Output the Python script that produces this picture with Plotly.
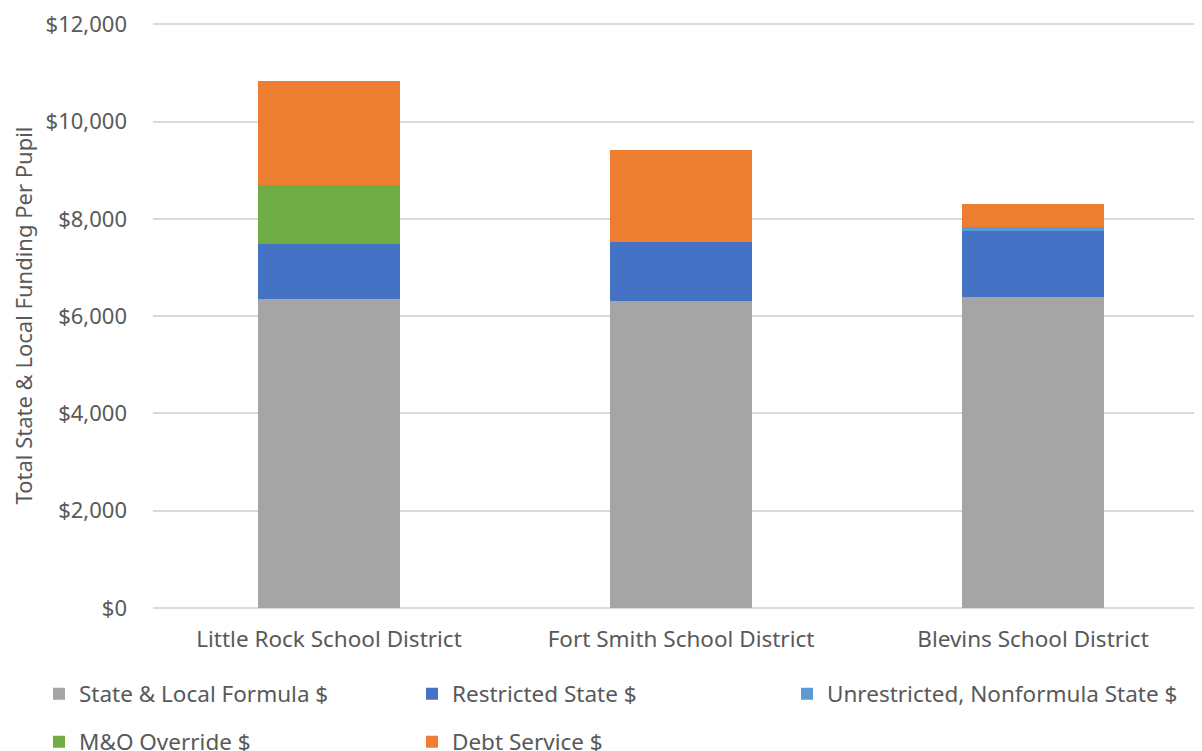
import plotly.graph_objects as go

districts = ["Little Rock School District", "Fort Smith School District", "Blevins School District"]
formula = [6349, 6302, 6392]
restricted = [1134, 1226, 1354]
unrestricted = [0, 0, 82]
mo_override = [1204, 0, 0]
debt_service = [2140, 1877, 472]

series_names = ["State & Local Formula $", "Restricted State $", "Unrestricted, Nonformula State $",
                "M&O Override $", "Debt Service $"]
series_values = [formula, restricted, unrestricted, mo_override, debt_service]
series_colors = ["#A5A5A5", "#4472C4", "#5B9BD5", "#70AD47", "#ED7D31"]

FONT = "Noto Sans"
TXT = "#595959"

# the page body adds an 8px offset, so the figure is sized to fit the window
W, H = 1194, 743
L, R, T, B = 145, 0, 15, 143

# legend item anchor positions in figure pixels (item start, row centre)
legend_pos = [(31, 686), (404, 686), (779, 686), (31, 734), (404, 734)]

fig = go.Figure()
layout_legends = {}
for i, (name, vals, color) in enumerate(zip(series_names, series_values, series_colors)):
    lid = "legend" if i == 0 else f"legend{i + 1}"
    fig.add_trace(go.Bar(
        x=districts, y=vals, name=name, legend=lid,
        marker=dict(color=color, line=dict(width=0)),
        width=0.403,
    ))
    px, py = legend_pos[i]
    layout_legends[lid] = dict(
        orientation="h", xref="container", yref="container",
        x=px / W, y=1 - py / H,
        xanchor="left", yanchor="middle",
        font=dict(size=22.5, color=TXT), bgcolor="rgba(0,0,0,0)",
        borderwidth=0,
    )

fig.update_layout(
    width=W, height=H,
    barmode="stack",
    showlegend=True,
    plot_bgcolor="white", paper_bgcolor="white",
    margin=dict(l=L, r=R, t=T, b=B),
    font=dict(family=FONT, size=22, color=TXT),
    xaxis=dict(range=[-0.5, 2.48], showgrid=False, showline=False, ticks="",
               automargin=False,
               tickfont=dict(size=22.5, color=TXT), ticklabelstandoff=15),
    yaxis=dict(range=[0, 12025], dtick=2000, tickprefix="$", tickformat=",",
               automargin=False, ticklabeloverflow="allow",
               gridcolor="#D9D9D9", gridwidth=1.5, zeroline=True, zerolinecolor="#D9D9D9",
               zerolinewidth=1.5, showline=False, ticks="",
               tickfont=dict(size=22, color=TXT), ticklabelstandoff=25,
               title=dict(text="Total State & Local Funding Per Pupil",
                          font=dict(size=22, color=TXT), standoff=8)),
    **layout_legends,
)

fig.write_html("out.html")
